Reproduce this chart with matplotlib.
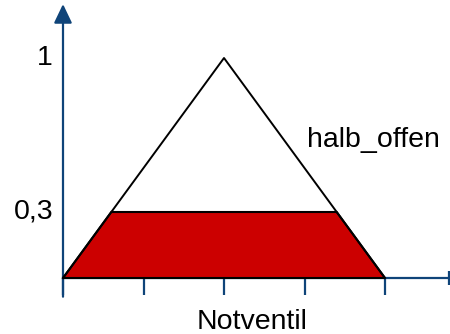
import numpy as np
import matplotlib
import matplotlib.pyplot as plt

matplotlib.use('Agg')

# fuzzy set "halb_offen" on the Notventil axis
set_name = 'halb_offen'
axis_label = 'Notventil'
tri_left, tri_peak, tri_right = 0.0, 2.0, 4.0
clip_level = 0.3
x_ticks = [0, 1, 2, 3, 4]
y_ticks = [1.0, 0.3]
y_tick_labels = ['1', '0,3']

axis_color = '#0f4479'
fill_color = '#cc0000'

plt.rcParams['font.family'] = ['Liberation Sans', 'DejaVu Sans']


def membership(x):
    x = np.asarray(x, dtype=float)
    up = (x - tri_left) / (tri_peak - tri_left)
    down = (tri_right - x) / (tri_right - tri_peak)
    return np.clip(np.minimum(up, down), 0, 1)


fig = plt.figure(figsize=(4.5, 3.34), dpi=100)
ax = fig.add_axes([0, 0, 1, 1])
x_max = (450 - 63) / 80.5
ax.set_xlim(-63 / 80.5, x_max)
ax.set_ylim(-(334 - 278) / 220, 278 / 220)
ax.axis('off')

# y axis with arrow
ax.annotate('', xy=(0, 1.245), xytext=(0, -0.085),
            arrowprops=dict(arrowstyle='-|>,head_length=1.15,head_width=0.55',
                            mutation_scale=10, lw=1.6, color=axis_color,
                            shrinkA=0, shrinkB=0))
# x axis, its arrow head is cut off by the right edge
ax.plot([0, x_max], [0, 0], color=axis_color, lw=1.6, clip_on=False)
ax.plot([x_max - 0.015], [0], marker='|', markersize=10,
        markeredgewidth=1.6, color=axis_color)
for xt in x_ticks:
    ax.plot([xt, xt], [0, -0.078], color=axis_color, lw=1.6,
            solid_capstyle='butt')

# clipped area (red trapezoid)
x_cut_left = tri_left + clip_level * (tri_peak - tri_left)
x_cut_right = tri_right - clip_level * (tri_right - tri_peak)
xs = np.array([tri_left, x_cut_left, x_cut_right, tri_right])
ys = np.minimum(membership(xs), clip_level)
ax.fill(xs, ys, facecolor=fill_color, edgecolor='black', lw=1.5,
        joinstyle='miter', zorder=3)

# triangle outline
xt_line = np.array([tri_left, tri_peak, tri_right])
ax.plot(xt_line, membership(xt_line), color='black', lw=1.4, zorder=4)

# labels
for yv, lab in zip(y_ticks, y_tick_labels):
    ax.text(-0.124, yv, lab, ha='right', va='center', fontsize=20.5)
ax.text(3.03, 0.627, set_name, ha='left', va='center', fontsize=20.5)
ax.text(2.35, -0.2, axis_label, ha='center', va='center', fontsize=20.5)

fig.savefig('out.png', dpi=100)
